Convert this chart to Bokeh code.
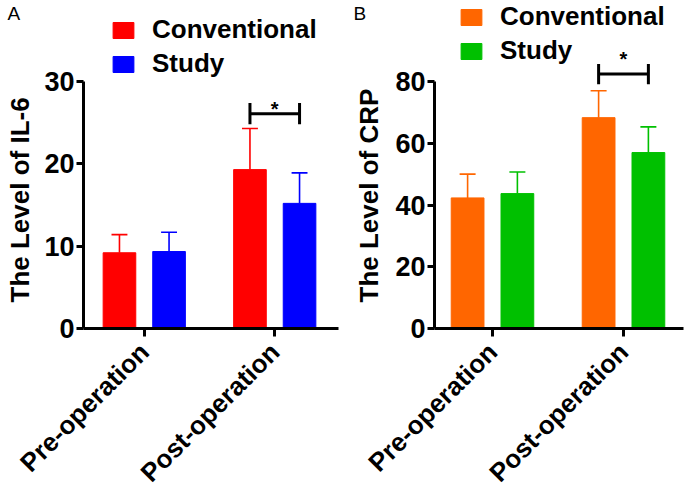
import math
import numpy as np
from bokeh.plotting import figure
from bokeh.models import Range1d, FixedTicker, Legend, LegendItem, Title
from bokeh.layouts import row
from bokeh.embed import file_html
from bokeh.resources import INLINE
from bokeh.core.properties import value

# ---------------- data ----------------
groups = ["Pre-operation", "Post-operation"]
series = ["Conventional", "Study"]

il6_conventional = [9.2, 19.3]
il6_conventional_sd = [2.2, 5.0]
il6_study = [9.35, 15.2]
il6_study_sd = [2.35, 3.7]

crp_conventional = [42.3, 68.3]
crp_conventional_sd = [7.7, 8.7]
crp_study = [43.7, 57.0]
crp_study_sd = [7.0, 8.3]

il6_ticks = [0, 10, 20, 30]
crp_ticks = [0, 20, 40, 60, 80]

il6_sig_level = 26.1
il6_star_level = 26.7
crp_sig_level = 82.4
crp_star_level = 87.3

FONT = "Liberation Sans"


def panel(letter, ylabel, means, sds, colors, ticks, yend, xstart, xend,
          width, bl, br, sig_level, sig_half, star_level, legend_loc,
          letter_offset, title_standoff):
    p = figure(width=width, height=501,
               x_range=Range1d(xstart, xend), y_range=Range1d(0, yend),
               output_backend="svg", toolbar_location=None,
               min_border_left=bl, min_border_right=br,
               min_border_top=2, min_border_bottom=173)
    p.outline_line_color = None
    p.grid.visible = False

    centers = np.arange(len(groups)) + 0.5
    offset = 0.19
    cap = 0.061
    rends = []
    for i, (m, s, c) in enumerate(zip(means, sds, colors)):
        xs = centers + (-offset if i == 0 else offset)
        m = np.array(m, dtype=float)
        tops = m + np.array(s, dtype=float)
        r = p.vbar(x=xs, top=m, bottom=0, width=0.25,
                   fill_color=c, line_color=c, line_width=1)
        p.segment(x0=xs, y0=m, x1=xs, y1=tops, line_color=c, line_width=1.6)
        p.segment(x0=xs - cap, y0=tops, x1=xs + cap, y1=tops,
                  line_color=c, line_width=1.6)
        rends.append(r)

    # significance bracket between post-operation bars
    lx = centers[1] - offset
    rx = centers[1] + offset
    p.segment(x0=[lx], y0=[sig_level], x1=[rx], y1=[sig_level],
              line_color="black", line_width=3)
    p.segment(x0=[lx, rx], y0=[sig_level - sig_half] * 2,
              x1=[lx, rx], y1=[sig_level + sig_half] * 2,
              line_color="black", line_width=3)
    p.text(x=[centers[1]], y=[star_level], text=["*"],
           text_align="center", text_baseline="middle",
           text_font_size="20px", text_font_style="bold",
           text_font=value(FONT), text_color="black")

    # axes
    xa = p.xaxis[0]
    xa.ticker = FixedTicker(ticks=[float(c) for c in centers])
    xa.major_label_overrides = {float(c): g for c, g in zip(centers, groups)}
    xa.major_label_orientation = math.pi / 4
    xa.major_label_text_font_size = "26px"
    xa.major_label_text_font_style = "bold"
    xa.major_label_text_font = FONT
    xa.major_label_text_color = "black"
    xa.major_label_standoff = 11
    xa.axis_line_width = 3
    xa.axis_line_color = "black"
    xa.major_tick_line_width = 3
    xa.major_tick_line_color = "black"
    xa.major_tick_out = 8
    xa.major_tick_in = 0
    xa.minor_tick_line_color = None

    ya = p.yaxis[0]
    ya.ticker = FixedTicker(ticks=ticks)
    ya.bounds = (ticks[0], ticks[-1])
    ya.major_label_text_font_size = "27px"
    ya.major_label_text_font_style = "bold"
    ya.major_label_text_font = FONT
    ya.major_label_text_color = "black"
    ya.major_label_standoff = 2
    ya.axis_line_width = 3
    ya.axis_line_color = "black"
    ya.major_tick_line_width = 3
    ya.major_tick_line_color = "black"
    ya.major_tick_out = 7
    ya.major_tick_in = 0
    ya.minor_tick_line_color = None

    # y axis title (left side panel), starting 26px above the x axis
    p.add_layout(Title(text=ylabel, align="left", offset=26,
                       vertical_align="top", standoff=title_standoff,
                       text_font_size="26px", text_font_style="bold",
                       text_font=FONT, text_color="black"), "left")

    # panel letter (above side panel, drawn down into the top margin)
    p.add_layout(Title(text=letter, align="left", offset=letter_offset,
                       vertical_align="bottom", standoff=-43,
                       text_font_size="19px", text_font_style="normal",
                       text_font=FONT, text_color="black"), "above")

    legend = Legend(items=[LegendItem(label=s, renderers=[r])
                           for s, r in zip(series, rends)],
                    location=legend_loc, glyph_width=26, glyph_height=20,
                    label_standoff=16, spacing=3, padding=0, margin=0,
                    border_line_color=None, background_fill_alpha=0,
                    label_text_font_size="26px", label_text_font_style="bold",
                    label_text_font=FONT, label_text_color="black")
    p.add_layout(legend)
    return p


pA = panel("A", "The Level of IL-6",
           [il6_conventional, il6_study], [il6_conventional_sd, il6_study_sd],
           ["#FF0000", "#0000FF"], il6_ticks, 39.6, 0.0344, 1.9885,
           344, 82, 6, il6_sig_level, 1.3, il6_star_level, (27, 249),
           -76, 9)

pB = panel("B", "The Level of CRP",
           [crp_conventional, crp_study], [crp_conventional_sd, crp_study_sd],
           ["#FF6600", "#00C000"], crp_ticks, 105.6, 0.0573, 1.958,
           343, 90, 4, crp_sig_level, 3.3, crp_star_level, (24, 262),
           -81, 13)

layout = row(pA, pB)
open("out.html", "w").write(file_html(layout, INLINE))
